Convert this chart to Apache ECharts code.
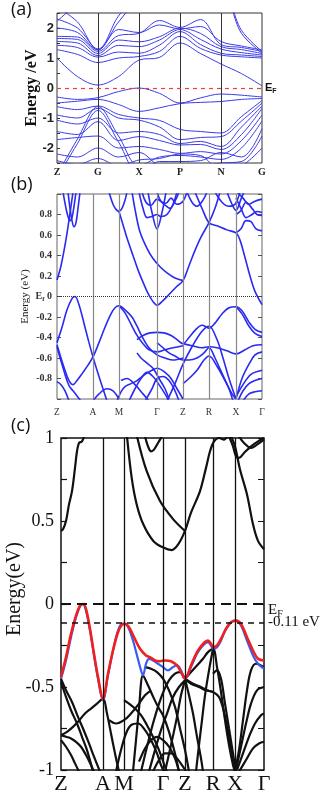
<!DOCTYPE html>
<html>
<head>
<meta charset="utf-8">
<script src="https://cdn.jsdelivr.net/npm/echarts@6/dist/echarts.min.js"></script>
<style>
  html, body { margin: 0; padding: 0; background: #fff; }
  #chart { width: 322px; height: 794px; }
</style>
</head>
<body>
<div id="chart"></div>
<script>
// ---- panel (a): bands sampled at kGridA ----
const kpA = [0, 1, 2, 3, 4, 5]
const kLabelsA = ['Z', 'G', 'X', 'P', 'N', 'G']
const kGridA = [0, 0.5, 1, 1.5, 2, 2.5, 3, 3.5, 4, 4.5, 5]
const yTicksA = [-2, -1, 0, 1, 2]
const bandsA = [
  [1.0, 0.38, 0.1, 0.38, 0.93, 1.02, 1.5, 1.15, 0.8, 0.48, 0.07],
  [1.28, 1.12, 0.85, 1.0, 1.05, 1.22, 1.72, 1.32, 1.1, 1.04, 1.0],
  [1.42, 1.35, 1.03, 1.2, 1.16, 1.43, 1.88, 1.45, 1.16, 1.1, 1.05],
  [1.55, 1.5, 1.08, 1.42, 1.38, 1.6, 1.95, 1.62, 1.3, 1.18, 1.1],
  [1.65, 1.62, 1.15, 1.6, 1.54, 1.71, 2.0, 1.82, 1.38, 1.28, 1.15],
  [1.72, 1.7, 1.22, 1.75, 1.82, 2.25, 2.02, 2.28, 1.45, 1.35, 1.22],
  [2.0, 1.85, 1.27, 1.95, 1.85, 2.1, 1.97, 2.05, 1.55, 1.4, 1.27],
  [2.3, 2.0, 1.3, 2.4, 3.1, 3.2, 3.0, 3.2, 3.2, 1.82, 1.16],
  [2.7, 2.2, 1.27, 2.2, 2.9, 3.0, 3.0, 3.0, 3.3, 1.92, 1.22],
  [2.22, 2.8, 3.2, 3.2, 3.2, 3.2, 3.2, 3.2, 3.2, 3.2, 3.2],
  [-0.3, -0.38, -0.32, -0.12, 0.0, -0.18, -0.5, -0.33, -0.2, -0.24, -0.3],
  [-0.5, -0.44, -0.38, -0.55, -0.78, -0.66, -0.52, -0.48, -0.45, -0.38, -0.35],
  [-0.62, -0.72, -0.6, -0.88, -1.0, -1.08, -1.38, -1.45, -1.5, -0.95, -0.42],
  [-0.9, -1.0, -0.68, -1.0, -1.07, -1.3, -1.72, -1.65, -1.62, -1.1, -0.5],
  [-1.07, -1.2, -1.0, -1.5, -1.45, -1.55, -1.85, -1.78, -1.95, -1.3, -0.6],
  [-1.45, -1.55, -1.12, -1.75, -1.62, -1.75, -1.9, -1.88, -2.05, -1.55, -0.68],
  [-1.72, -1.65, -1.6, -2.0, -1.95, -2.05, -2.18, -2.12, -2.2, -1.75, -0.9],
  [-2.9, -1.7, -0.62, -1.6, -2.6, -2.3, -2.25, -2.3, -2.38, -2.0, -1.1],
  [-3.0, -1.85, -0.75, -1.8, -2.85, -2.45, -2.45, -2.42, -2.15, -2.3, -1.35],
  [-2.2, -2.3, -2.0, -2.3, -2.15, -2.6, -2.7, -2.6, -2.5, -2.45, -1.6],
  [-2.42, -2.55, -2.35, -2.6, -2.4, -2.35, -2.2, -2.25, -2.75, -2.6, -2.0]
]

// ---- panel (b): bands as [k, E] ----
const kpB = [0, 36, 62, 100, 126, 152, 179, 205]
const kLabelsB = ['Z', 'A', 'M', 'Γ', 'Z', 'R', 'X', 'Γ']
const yTicksB = [-0.8, -0.6, -0.4, -0.2, 0, 0.2, 0.4, 0.6, 0.8]
const bandsB = [
  [[0, 0.16], [4, 0.3], [8, 0.5], [11, 0.68], [14, 0.88], [16, 1.02]],
  [[6, 1.02], [9, 0.86], [11, 0.78], [13, 0.74], [15, 0.77], [17, 0.88], [19, 1.02]],
  [[11, 1.02], [13, 0.86], [15, 0.74], [17, 0.68], [19, 0.72], [21, 0.86], [23, 1.02]],
  [[52, 1.02], [56, 0.9], [59, 0.85], [62, 0.83], [65, 0.86], [68, 0.94], [70, 1.02]],
  [[62, 0.83], [66, 0.7], [70, 0.57], [76, 0.4], [81, 0.26], [86, 0.14], [91, 0.03], [96, -0.05], [100, -0.085], [106, -0.04], [112, 0.02], [119, 0.09], [126, 0.155], [132, 0.3], [138, 0.45], [144, 0.58], [152, 0.72], [158, 0.86], [163, 1.02]],
  [[75, 1.02], [79, 0.8], [83, 0.63], [90, 0.47], [96, 0.37], [103, 0.29], [110, 0.23], [118, 0.18], [126, 0.155]],
  [[138, 1.02], [145, 0.86], [152, 0.72], [160, 0.69], [170, 0.65], [179, 0.62], [183, 0.55], [188, 0.38], [193, 0.2], [198, 0.05], [205, -0.08]],
  [[82, 1.02], [86, 0.86], [90, 0.77], [95, 0.78], [100, 0.8], [104, 0.78], [110, 0.8], [116, 0.9], [120, 1.02]],
  [[91, 1.02], [95, 0.82], [100, 0.66], [105, 0.82], [109, 1.02]],
  [[85, 1.02], [89, 0.92], [94, 0.89], [100, 0.95], [107, 0.9], [113, 0.86], [119, 0.95], [122, 1.02]],
  [[100, 1.02], [104, 0.93], [109, 0.91], [114, 0.96], [120, 0.9], [126, 0.93], [130, 1.02]],
  [[130, 1.02], [135, 0.92], [140, 0.88], [146, 0.94], [150, 1.02]],
  [[158, 1.02], [165, 0.92], [172, 0.88], [178, 0.9], [183, 1.02]],
  [[179, 0.62], [184, 0.66], [189, 0.74], [194, 0.73], [199, 0.66], [205, 0.64]],
  [[179, 0.96], [184, 0.86], [189, 0.77], [195, 0.8], [200, 0.83], [205, 0.82]],
  [[179, 0.8], [184, 0.84], [189, 0.92], [195, 0.86], [200, 0.8], [205, 0.79]],
  [[180, 1.02], [186, 0.96], [192, 0.9], [198, 0.93], [205, 0.95]],
  [[170, 1.02], [175, 0.9], [179, 0.84], [184, 0.95], [187, 1.02]],
  [[0, -0.45], [5, -0.3], [10, -0.13], [15, -0.02], [18, 0.0], [22, -0.08], [28, -0.3], [32, -0.45], [36, -0.59], [40, -0.72], [45, -0.87], [50, -1.02]],
  [[0, -0.47], [4, -0.6], [8, -0.72], [12, -0.82], [16, -0.86], [20, -0.82], [26, -0.74], [31, -0.67], [36, -0.59], [42, -0.45], [48, -0.3], [54, -0.17], [58, -0.11], [62, -0.09], [68, -0.13], [75, -0.2], [80, -0.29], [85, -0.39], [92, -0.5], [100, -0.57], [108, -0.6], [116, -0.62], [126, -0.6]],
  [[62, -0.09], [68, -0.16], [74, -0.27], [80, -0.38], [86, -0.46], [92, -0.52], [100, -0.54], [108, -0.52], [116, -0.5], [126, -0.48]],
  [[80, -0.42], [86, -0.38], [93, -0.355], [100, -0.35], [107, -0.355], [114, -0.38], [120, -0.42], [126, -0.46], [132, -0.4], [138, -0.33], [145, -0.28], [150, -0.3], [152, -0.31], [158, -0.26], [165, -0.17], [172, -0.11], [179, -0.1], [185, -0.14], [192, -0.25], [198, -0.32], [205, -0.35]],
  [[179, -0.1], [185, -0.17], [192, -0.29], [198, -0.36], [205, -0.39]],
  [[126, -0.46], [135, -0.48], [145, -0.5], [152, -0.49], [160, -0.5], [170, -0.53], [179, -0.56], [188, -0.52], [196, -0.48], [205, -0.47]],
  [[110, -1.02], [118, -0.85], [126, -0.66], [135, -0.49], [145, -0.34], [152, -0.29], [160, -0.42], [166, -0.6], [172, -0.8], [179, -1.0]],
  [[179, -1.0], [185, -0.8], [192, -0.66], [198, -0.57], [205, -0.54]],
  [[179, -0.98], [186, -0.86], [194, -0.76], [205, -0.72]],
  [[0, -0.83], [4, -0.86], [8, -0.92], [12, -1.02]],
  [[0, -0.49], [4, -0.63], [8, -0.76], [12, -0.87], [16, -0.92], [20, -0.97], [24, -1.02]],
  [[60, -1.02], [64, -0.93], [68, -0.88], [74, -0.85], [80, -0.82], [88, -0.76], [95, -0.72], [100, -0.7], [108, -0.74], [114, -0.8], [120, -0.9], [126, -1.0]],
  [[64, -0.82], [70, -0.8], [78, -0.86], [86, -0.95], [92, -1.02]],
  [[72, -1.02], [78, -0.9], [84, -0.8], [90, -0.74], [96, -0.78], [102, -0.86], [108, -0.95], [112, -1.02]],
  [[80, -0.55], [84, -0.6], [90, -0.65], [96, -0.7], [102, -0.8], [108, -0.9], [112, -1.0]],
  [[88, -1.02], [95, -0.9], [100, -0.8], [106, -0.78], [112, -0.82], [118, -0.92], [122, -1.02]],
  [[100, -0.45], [106, -0.5], [112, -0.55], [118, -0.58], [126, -0.62], [132, -0.62], [140, -0.6], [147, -0.55], [152, -0.5], [158, -0.6], [165, -0.75], [172, -0.9], [176, -1.02]],
  [[181, -1.02], [186, -0.92], [192, -0.85], [198, -0.82], [205, -0.8]],
  [[186, -1.02], [192, -0.95], [198, -0.93], [205, -0.92]],
  [[126, -0.85], [132, -0.8], [140, -0.72], [147, -0.62], [152, -0.58], [160, -0.68], [168, -0.82], [175, -0.95], [179, -1.0]],
  [[36, -1.02], [42, -0.95], [50, -0.9], [56, -0.92], [62, -1.0]]
]

// ---- panel (c): bands as [k, E] ----
const kpC = [0, 42, 63, 102, 124, 152, 174, 203]
const kLabelsC = ['Z', 'A', 'M', 'Γ', 'Z', 'R', 'X', 'Γ']
const yTicksC = [-1, -0.5, 0, 0.5, 1]
const blueBandC = [[0, -0.45], [5, -0.34], [10, -0.2], [15, -0.08], [19, -0.015], [22, 0.0], [25, -0.04], [29, -0.16], [33, -0.31], [37, -0.45], [42, -0.58], [47, -0.43], [52, -0.28], [57, -0.16], [61, -0.12], [64, -0.12], [68, -0.15], [72, -0.22], [76, -0.31], [80, -0.4], [82, -0.43], [85, -0.36], [88, -0.33], [92, -0.34], [97, -0.36], [102, -0.38], [107, -0.4], [112, -0.38], [116, -0.37], [120, -0.4], [124, -0.45], [130, -0.38], [136, -0.3], [142, -0.25], [147, -0.23], [150, -0.25], [152, -0.27], [156, -0.26], [160, -0.22], [165, -0.15], [170, -0.11], [175, -0.1], [180, -0.13], [186, -0.22], [192, -0.31], [197, -0.36], [203, -0.39]]
const redBandC = [[0, -0.44], [5, -0.32], [10, -0.18], [15, -0.07], [19, -0.01], [22, 0.0], [25, -0.03], [29, -0.15], [33, -0.3], [37, -0.44], [42, -0.57], [47, -0.42], [52, -0.28], [57, -0.17], [61, -0.125], [64, -0.12], [68, -0.14], [73, -0.2], [79, -0.27], [85, -0.31], [89, -0.32], [94, -0.34], [99, -0.345], [104, -0.34], [110, -0.345], [116, -0.37], [120, -0.41], [124, -0.45], [130, -0.37], [136, -0.29], [142, -0.24], [147, -0.22], [150, -0.24], [152, -0.26], [156, -0.25], [160, -0.21], [165, -0.15], [170, -0.11], [175, -0.1], [180, -0.12], [186, -0.2], [192, -0.28], [197, -0.33], [203, -0.34]]
const bandsC = [
  [[0, 0.44], [2, 0.45], [5, 0.5], [8, 0.6], [11, 0.68], [14, 0.82], [16, 0.92], [18, 0.97], [21, 0.98], [23, 1.01]],
  [[66, 1.01], [70.7, 0.76], [75.7, 0.6], [82.3, 0.48], [92.3, 0.38], [102.3, 0.34], [110.7, 0.325], [117.3, 0.36], [124, 0.44], [130, 0.55], [139, 0.68], [145, 0.82], [149, 0.92], [153, 0.98], [158, 1.0], [163, 0.99], [166, 1.01]],
  [[76, 1.01], [85.7, 0.8], [99, 0.62], [112.3, 0.51], [124, 0.44]],
  [[84, 1.01], [87, 0.95], [90, 0.92], [93, 0.93], [97, 0.97], [101, 1.01]],
  [[168, 1.01], [172, 0.95], [175, 0.89], [178, 0.88], [183, 0.91], [190, 0.95], [197, 0.98], [203, 1.0]],
  [[178, 1.01], [183, 0.97], [190, 0.94], [196, 0.96], [203, 0.99]],
  [[170, 1.01], [174, 0.95], [179, 0.81], [186, 0.66], [192, 0.48], [197, 0.38], [203, 0.33]],
  [[0, -0.45], [5, -0.52], [11, -0.59], [17, -0.68], [22, -0.75], [28, -0.84], [33, -0.92], [39, -1.01]],
  [[0, -0.47], [5, -0.56], [10, -0.64], [16, -0.72], [21, -0.8], [26, -0.88], [32, -1.01]],
  [[0, -0.79], [6, -0.77], [12, -0.74], [17, -0.71], [24, -0.66], [30, -0.63], [36, -0.6], [42, -0.57], [46, -0.66], [50, -0.78], [54, -0.9], [58, -1.01]],
  [[0, -0.79], [5, -0.8], [10, -0.81], [15, -0.83], [20, -0.86], [25, -0.91], [30, -0.97], [33, -1.01]],
  [[0, -0.82], [5, -0.86], [10, -0.91], [14, -0.96], [18, -1.01]],
  [[55, -1.01], [60, -0.88], [65, -0.78], [70, -0.73], [77, -0.72], [84, -0.76], [90, -0.82], [96, -0.9], [100, -0.97], [103, -1.01]],
  [[72, -1.01], [75, -0.82], [78, -0.63], [82, -0.43], [87, -0.49], [93, -0.57], [98, -0.63], [102, -0.67], [108, -0.77], [114, -0.9], [118, -1.01]],
  [[84, -0.38], [90, -0.39], [96, -0.41], [102, -0.45], [108, -0.52], [114, -0.62], [119, -0.75], [124, -0.88], [128, -1.01]],
  [[80, -1.01], [86, -0.86], [92, -0.72], [98, -0.6], [103, -0.52], [108, -0.46], [114, -0.42], [119, -0.41], [124, -0.45], [130, -0.48], [138, -0.5], [145, -0.52], [152, -0.53]],
  [[88, -1.01], [94, -0.88], [100, -0.76], [106, -0.66], [112, -0.56], [118, -0.5], [124, -0.46]],
  [[78, -0.95], [84, -0.87], [90, -0.82], [96, -0.8], [102, -0.82], [108, -0.86], [114, -0.93], [118, -1.01]],
  [[92, -1.01], [98, -0.94], [104, -0.9], [110, -0.9], [116, -0.93], [122, -0.98], [125, -1.01]],
  [[63, -0.58], [68, -0.6], [74, -0.63], [80, -0.67], [86, -0.73], [92, -0.8], [98, -0.88], [104, -0.98], [106, -1.01]],
  [[48, -0.7], [55, -0.72], [63, -0.7], [70, -0.66], [78, -0.6], [84, -0.55], [90, -0.52]],
  [[124, -0.45], [130, -0.41], [136, -0.37], [142, -0.33], [147, -0.29], [152, -0.27], [156, -0.38], [160, -0.53], [164, -0.7], [168, -0.85], [172, -0.97], [174, -1.01]],
  [[135, -1.01], [138, -0.85], [141, -0.7], [144, -0.55], [148, -0.4], [152, -0.27]],
  [[124, -0.45], [132, -0.48], [140, -0.5], [146, -0.52], [152, -0.53], [158, -0.56], [163, -0.65], [168, -0.8], [172, -0.93], [175, -1.01]],
  [[152, -0.42], [156, -0.4], [160, -0.45], [164, -0.6], [168, -0.75], [172, -0.9], [174, -0.98]],
  [[174, -1.0], [178, -0.88], [182, -0.7], [186, -0.52], [190, -0.4], [195, -0.36], [200, -0.37], [203, -0.38]],
  [[175, -1.0], [180, -0.86], [185, -0.72], [190, -0.6], [196, -0.52], [203, -0.5]],
  [[176, -1.0], [182, -0.9], [188, -0.8], [194, -0.72], [200, -0.67], [203, -0.66]],
  [[178, -1.01], [185, -0.94], [192, -0.87], [198, -0.84], [203, -0.83]],
  [[124, -0.45], [128, -0.55], [132, -0.66], [136, -0.8], [140, -0.93], [142, -1.01]],
  [[104, -1.01], [110, -0.85], [116, -0.68], [120, -0.55], [124, -0.46]]
]

const serif = 'Liberation Serif'
const sans = 'Liberation Sans'

const chart = echarts.init(document.getElementById('chart'), null, { renderer: 'canvas' })

const band = (data, gi, color, width, z) => ({
  type: 'line',
  xAxisIndex: gi,
  yAxisIndex: gi,
  data,
  symbol: 'none',
  showSymbol: false,
  smooth: 0.35,
  clip: true,
  silent: true,
  z,
  lineStyle: { color, width }
})

// vertical lines at high symmetry points + Fermi lines
const guides = (gi, kp, color, width, extra) => ({
  type: 'line',
  xAxisIndex: gi,
  yAxisIndex: gi,
  data: [],
  silent: true,
  z: 1,
  markLine: {
    silent: true,
    symbol: ['none', 'none'],
    animation: false,
    label: { show: false },
    lineStyle: { color, width, type: 'solid' },
    data: kp.slice(1, -1).map(k => ({ xAxis: k })).concat(extra)
  }
})

const xAxisOf = (gi, kp, names, font) => ({
  type: 'value',
  gridIndex: gi,
  min: kp[0],
  max: kp[kp.length - 1],
  axisLine: { show: false },
  axisTick: { show: false },
  splitLine: { show: false },
  axisLabel: Object.assign({
    customValues: kp,
    showMinLabel: true,
    showMaxLabel: true,
    formatter: v => names[kp.indexOf(v)]
  }, font)
})

const rightAxis = (gi, min, max, interval, len, color) => ({
  type: 'value',
  gridIndex: gi,
  position: 'right',
  min, max, interval,
  axisLine: { show: false },
  axisLabel: { show: false },
  splitLine: { show: false },
  axisTick: { show: len > 0, inside: true, length: len, lineStyle: { color } }
})

const option = {
  animation: false,
  title: [
    { text: '(a)', left: 11, top: 1, padding: 0, textStyle: { fontFamily: 'Open Sans', fontSize: 18, fontWeight: 'normal', color: '#111' } },
    { text: '(b)', left: 11, top: 176, padding: 0, textStyle: { fontFamily: 'Open Sans', fontSize: 18, fontWeight: 'normal', color: '#111' } },
    { text: '(c)', left: 11, top: 417, padding: 0, textStyle: { fontFamily: 'Open Sans', fontSize: 18, fontWeight: 'normal', color: '#111' } }
  ],
  grid: [
    { left: 57, top: 13, width: 205, height: 150, show: true, borderColor: '#333', borderWidth: 1, outerBoundsMode: 'none' },
    { left: 57, top: 194, width: 205, height: 205, show: true, borderColor: '#666', borderWidth: 1, outerBoundsMode: 'none' },
    { left: 61, top: 438, width: 203, height: 332, show: true, borderColor: '#111', borderWidth: 1.5, outerBoundsMode: 'none' }
  ],
  xAxis: [
    xAxisOf(0, kpA, kLabelsA, { fontFamily: serif, fontWeight: 'bold', fontSize: 10, color: '#222', margin: 4 }),
    xAxisOf(1, kpB, kLabelsB, { fontFamily: serif, fontSize: 9.5, color: '#333', margin: 8 }),
    xAxisOf(2, kpC, kLabelsC, { fontFamily: serif, fontSize: 22, color: '#111', margin: 3 })
  ],
  yAxis: [
    {
      type: 'value', gridIndex: 0, min: -2.5, max: 2.5, interval: 0.5,
      name: 'Energy /eV', nameLocation: 'middle', nameGap: 17, nameMoveOverlap: false,
      nameTextStyle: { fontFamily: serif, fontWeight: 'bold', fontSize: 16, color: '#111' },
      axisLine: { show: false }, splitLine: { show: false },
      axisTick: { show: true, inside: true, length: 3, lineStyle: { color: '#333' } },
      axisLabel: { customValues: yTicksA, fontFamily: sans, fontWeight: 'bold', fontSize: 13, color: '#222', margin: 3 }
    },
    {
      type: 'value', gridIndex: 1, min: -1, max: 1, interval: 0.2,
      name: 'Energy (eV)', nameLocation: 'middle', nameGap: 26, nameMoveOverlap: false,
      nameTextStyle: { fontFamily: serif, fontSize: 11, color: '#222' },
      axisLine: { show: false }, splitLine: { show: false },
      axisTick: { show: true, inside: true, length: 4, lineStyle: { color: '#555' } },
      axisLabel: {
        customValues: yTicksB, fontFamily: serif, fontWeight: 'bold', fontSize: 10, color: '#333', margin: 5,
        formatter: v => v === 0 ? '{e|E}{s|f}{e| 0}' : v.toFixed(1),
        rich: {
          e: { fontFamily: serif, fontWeight: 'bold', fontSize: 10, color: '#333' },
          s: { fontFamily: serif, fontWeight: 'bold', fontSize: 7, color: '#333', padding: [5, 0, 0, 0] }
        }
      }
    },
    {
      type: 'value', gridIndex: 2, min: -1, max: 1, interval: 0.25,
      name: 'Energy(eV)', nameLocation: 'middle', nameGap: 36, nameMoveOverlap: false,
      nameTextStyle: { fontFamily: serif, fontSize: 20, color: '#111', padding: [0, 0, 0, 30] },
      axisLine: { show: false }, splitLine: { show: false },
      axisTick: { show: true, inside: true, length: 6, lineStyle: { color: '#111', width: 1.2 } },
      axisLabel: { customValues: yTicksC, fontFamily: serif, fontSize: 18, color: '#111', margin: 7, formatter: v => String(v) }
    },
    rightAxis(0, -2.5, 2.5, 0.5, 0, '#333'),
    rightAxis(1, -1, 1, 0.2, 4, '#555'),
    rightAxis(2, -1, 1, 0.25, 6, '#111')
  ],
  series: []
}

// panel (a)
option.series.push(guides(0, kpA, '#333', 1, [{
  yAxis: 0,
  lineStyle: { color: '#e8413c', width: 1.2, type: [4, 4] },
  label: {
    show: true, position: 'end', distance: 3, formatter: '{e|E}{s|F}',
    rich: {
      e: { fontFamily: sans, fontWeight: 'bold', fontSize: 11, color: '#111' },
      s: { fontFamily: sans, fontWeight: 'bold', fontSize: 7, color: '#111', padding: [6, 0, 0, 0] }
    }
  }
}]))
bandsA.forEach(b => option.series.push(band(b.map((e, i) => [kGridA[i], e]), 0, '#3b3be8', 1, 2)))

// panel (b)
option.series.push(guides(1, kpB, '#888', 1.2, [{
  yAxis: 0,
  lineStyle: { color: '#333', width: 1, type: 'dotted' }
}]))
bandsB.forEach(b => option.series.push(band(b, 1, '#2a2af2', 1.6, 2)))

// panel (c)
option.series.push(guides(2, kpC, '#111', 1.3, [
  {
    yAxis: 0,
    lineStyle: { color: '#111', width: 2, type: [10, 6] },
    label: {
      show: true, position: 'end', distance: 4, formatter: '{e|E}{s|F}', padding: [6, 0, 0, 0],
      rich: {
        e: { fontFamily: serif, fontSize: 15, color: '#111', padding: [6, 0, 0, 0] },
        s: { fontFamily: serif, fontSize: 10, color: '#111', padding: [14, 0, 0, 0] }
      }
    }
  },
  {
    yAxis: -0.11,
    lineStyle: { color: '#111', width: 1.5, type: [6, 5] },
    label: { show: true, position: 'end', distance: 4, formatter: '-0.11 eV', fontFamily: serif, fontSize: 15, color: '#111', padding: [17, 0, 0, 0] }
  }
]))
bandsC.forEach(b => option.series.push(band(b, 2, '#111', 2.2, 2)))
option.series.push(band(blueBandC, 2, '#3a5cf0', 2.2, 3))
option.series.push(band(redBandC, 2, '#f02020', 2.6, 4))

chart.setOption(option)
</script>
</body>
</html>
